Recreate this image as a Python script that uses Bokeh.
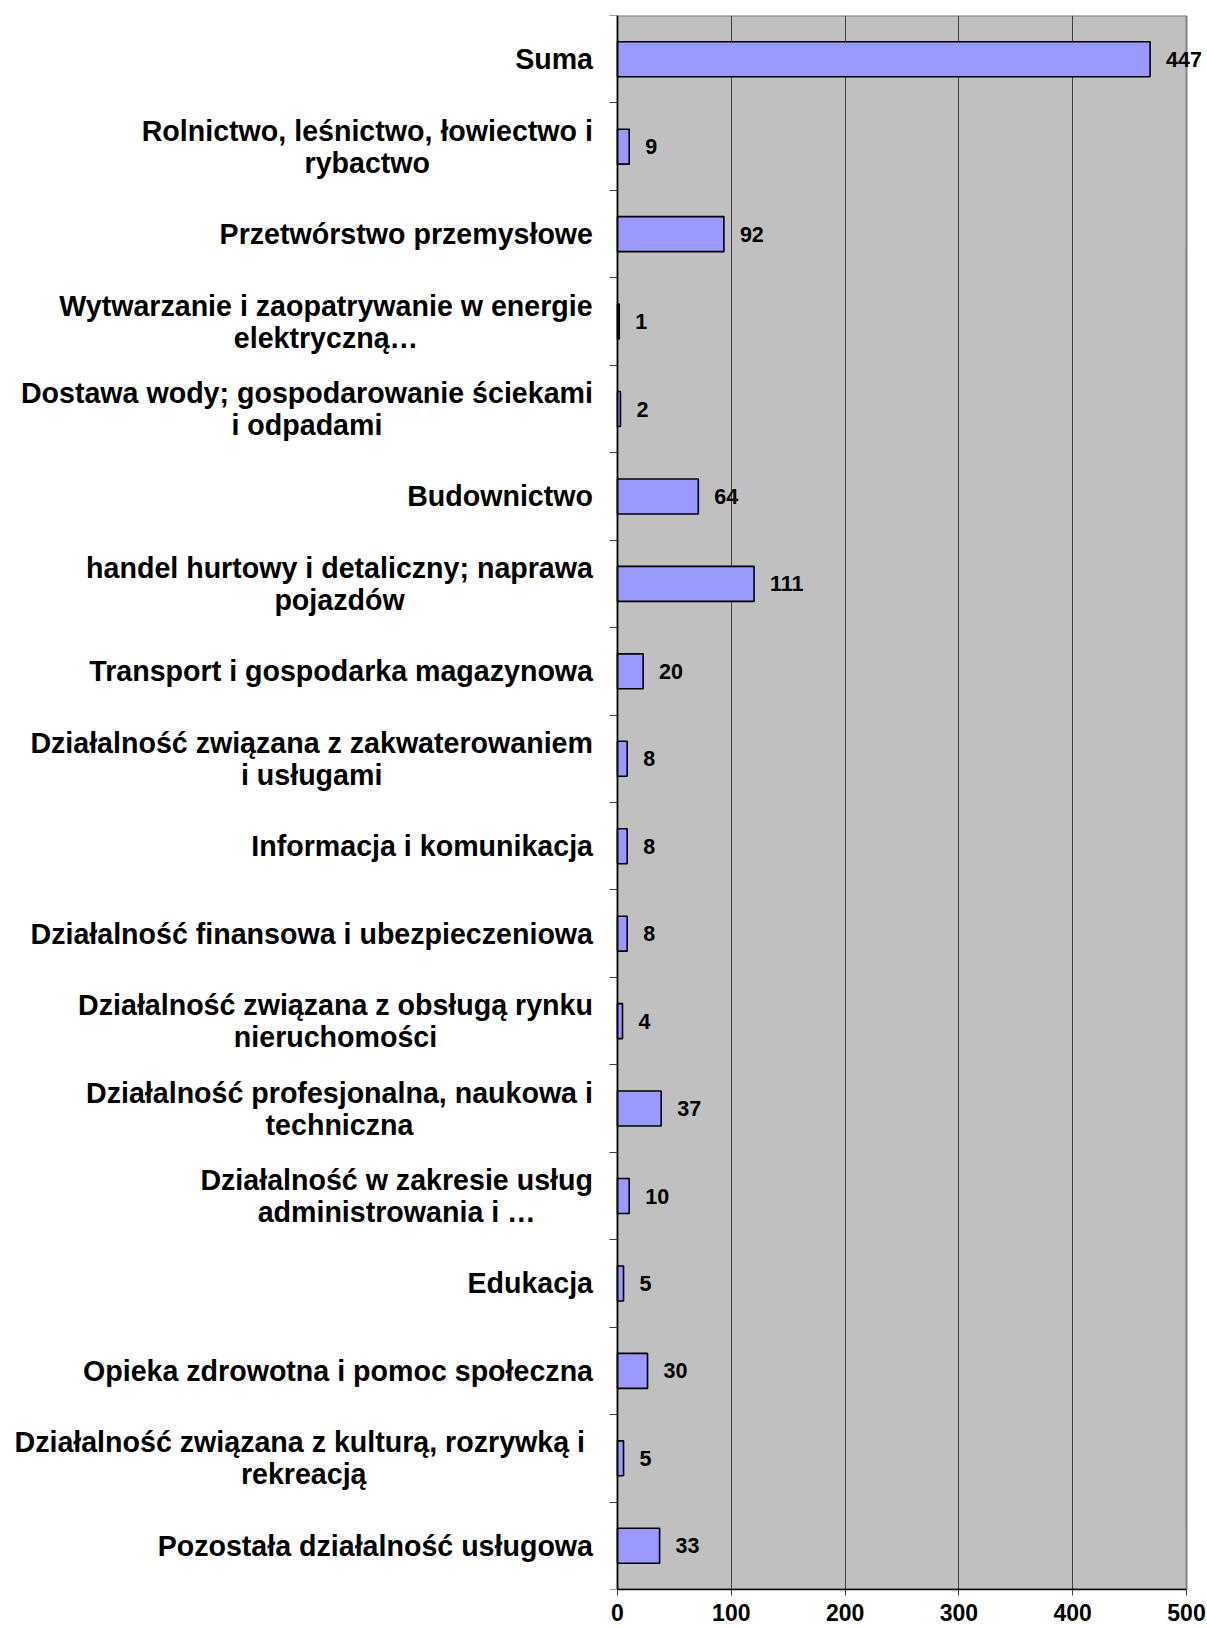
from bokeh.plotting import figure
from bokeh.models import Range1d, FixedTicker, LabelSet, ColumnDataSource
from bokeh.core.properties import value
from bokeh.embed import file_html
from bokeh.resources import INLINE

# ---- data ----
categories = [
    "Suma",
    "Rolnictwo, leśnictwo, łowiectwo i\nrybactwo",
    "Przetwórstwo przemysłowe",
    "Wytwarzanie i zaopatrywanie w energie\nelektryczną…",
    "Dostawa wody; gospodarowanie ściekami\ni odpadami",
    "Budownictwo",
    "handel hurtowy i detaliczny; naprawa\npojazdów",
    "Transport i gospodarka magazynowa",
    "Działalność związana z zakwaterowaniem\ni usługami",
    "Informacja i komunikacja",
    "Działalność finansowa i ubezpieczeniowa",
    "Działalność związana z obsługą rynku\nnieruchomości",
    "Działalność profesjonalna, naukowa i\ntechniczna",
    "Działalność w zakresie usług\nadministrowania i …",
    "Edukacja",
    "Opieka zdrowotna i pomoc społeczna",
    "Działalność związana z kulturą, rozrywką i \nrekreacją",
    "Pozostała działalność usługowa",
]
bar_values = [468, 10.3, 93.5, 1.5, 2.6, 71, 120, 22.5, 8.5, 8.5, 8.5, 4.4,
              38.4, 10.3, 5.3, 26.4, 5.3, 37]
label_values = [447, 9, 92, 1, 2, 64, 111, 20, 8, 8, 8, 4, 37, 10, 5, 30, 5, 33]
x_ticks = [0, 100, 200, 300, 400, 500]
x_max = 500

# ---- styling / layout ----
FONT = "Liberation Sans"
CAT_SIZE = 28.6
VAL_SIZE = 21.5
AX_SIZE = 23
GAP = 24.5
LINE = 32

W, H = 1207, 1628
AXIS0_PX = 617      # canvas x of value 0
AXISMAX_PX = 1186   # canvas x of value 500
px_per_unit = (AXISMAX_PX - AXIS0_PX) / x_max
x_start = -AXIS0_PX / px_per_unit
x_end = (W - AXIS0_PX) / px_per_unit

# Arial/Liberation Sans Bold advance widths (per 1000 em) for label layout
ADV = {' ': 278, ',': 278, ';': 333, '…': 1000, '.': 278,
       'A': 722, 'B': 722, 'C': 722, 'D': 722, 'E': 667, 'F': 611, 'G': 778,
       'H': 722, 'I': 278, 'J': 556, 'K': 722, 'L': 611, 'M': 833, 'N': 722,
       'O': 778, 'P': 667, 'Q': 778, 'R': 722, 'S': 667, 'T': 611, 'U': 722,
       'V': 667, 'W': 944, 'X': 667, 'Y': 667, 'Z': 611,
       'a': 556, 'b': 611, 'c': 556, 'd': 611, 'e': 556, 'f': 333, 'g': 611,
       'h': 611, 'i': 278, 'j': 278, 'k': 556, 'l': 278, 'm': 889, 'n': 611,
       'o': 611, 'p': 611, 'q': 611, 'r': 389, 's': 556, 't': 333, 'u': 611,
       'v': 556, 'w': 778, 'x': 556, 'y': 556, 'z': 500,
       'ą': 556, 'ć': 556, 'ę': 556, 'ł': 278, 'ń': 611, 'ó': 611, 'ś': 556,
       'ź': 500, 'ż': 500}


def text_width(s, size):
    return sum(ADV.get(ch, 556) for ch in s) / 1000.0 * size


n = len(categories)
ypos = [i + 0.5 for i in range(n)]

p = figure(width=W, height=H, output_backend="svg", toolbar_location=None,
           x_range=Range1d(x_start, x_end), y_range=Range1d(n, 0),
           min_border_left=0, min_border_right=0, min_border_top=15,
           min_border_bottom=39)

p.background_fill_color = "white"
p.border_fill_color = "white"
p.outline_line_color = None

# grey plot area with grey border
p.quad(left=[0], right=[x_max], bottom=[n], top=[0], fill_color="#C0C0C0",
       line_color="#808080", line_width=2, level="image")

# bars
p.hbar(y=ypos, left=0, right=bar_values, height=0.4,
       fill_color="#9999FF", line_color="black", line_width=1.6)

# grid
p.ygrid.visible = False
p.xgrid.ticker = FixedTicker(ticks=x_ticks[1:-1])
p.xgrid.grid_line_color = "#404040"
p.xgrid.grid_line_width = 1

# x axis
p.xaxis.ticker = FixedTicker(ticks=x_ticks)
p.xaxis.bounds = (0, x_max)
p.xaxis.axis_line_color = "black"
p.xaxis.axis_line_width = 1.5
p.xaxis.major_tick_line_color = "#404040"
p.xaxis.major_tick_out = 6
p.xaxis.major_tick_in = 0
p.xaxis.minor_tick_line_color = None
p.xaxis.major_label_text_font = FONT
p.xaxis.major_label_text_font_style = "bold"
p.xaxis.major_label_text_font_size = f"{AX_SIZE}px"
p.xaxis.major_label_text_color = "black"
p.xaxis.major_label_standoff = 8

# y axis at value 0 (ticks between categories, labels drawn below)
p.yaxis.fixed_location = 0
p.yaxis.ticker = FixedTicker(ticks=list(range(n + 1)))
p.yaxis.bounds = (0, n)
p.yaxis.axis_line_color = "black"
p.yaxis.axis_line_width = 1.5
p.yaxis.major_tick_line_color = "#404040"
p.yaxis.major_tick_out = 8
p.yaxis.major_tick_in = 0
p.yaxis.minor_tick_line_color = None
p.yaxis.major_label_text_font_size = "0px"
p.yaxis.major_label_text_color = None

# category labels: single lines right-aligned, wrapped lines centred
single = dict(y=[], text=[])
multi = dict(y=[], text=[], xoff=[], yoff=[])
for yv, cat in zip(ypos, categories):
    lines = cat.split("\n")
    if len(lines) == 1:
        single["y"].append(yv)
        single["text"].append(cat)
    else:
        w = max(text_width(line, CAT_SIZE) for line in lines)
        k = len(lines)
        for j, line in enumerate(lines):
            multi["y"].append(yv)
            multi["text"].append(line)
            multi["xoff"].append(-GAP - w / 2.0)
            multi["yoff"].append(((k - 1) / 2.0 - j) * LINE)

common = dict(text_font=value(FONT), text_font_style="bold",
              text_font_size=f"{CAT_SIZE}px", text_color="black",
              text_baseline="middle")
src_single = ColumnDataSource(dict(x=[0] * len(single["y"]), **single))
src_multi = ColumnDataSource(dict(x=[0] * len(multi["y"]), **multi))
p.add_layout(LabelSet(x="x", y="y", text="text", source=src_single,
                      x_offset=-GAP, text_align="right", **common))
p.add_layout(LabelSet(x="x", y="y", text="text", source=src_multi,
                      x_offset="xoff", y_offset="yoff", text_align="center",
                      **common))

# value labels
src_vals = ColumnDataSource(dict(x=bar_values, y=ypos,
                                 text=[str(v) for v in label_values]))
p.add_layout(LabelSet(x="x", y="y", text="text", source=src_vals,
                      x_offset=16, text_align="left", text_baseline="middle",
                      text_font=value(FONT), text_font_style="bold",
                      text_font_size=f"{VAL_SIZE}px", text_color="black"))

open("out.html", "w").write(file_html(p, INLINE))
